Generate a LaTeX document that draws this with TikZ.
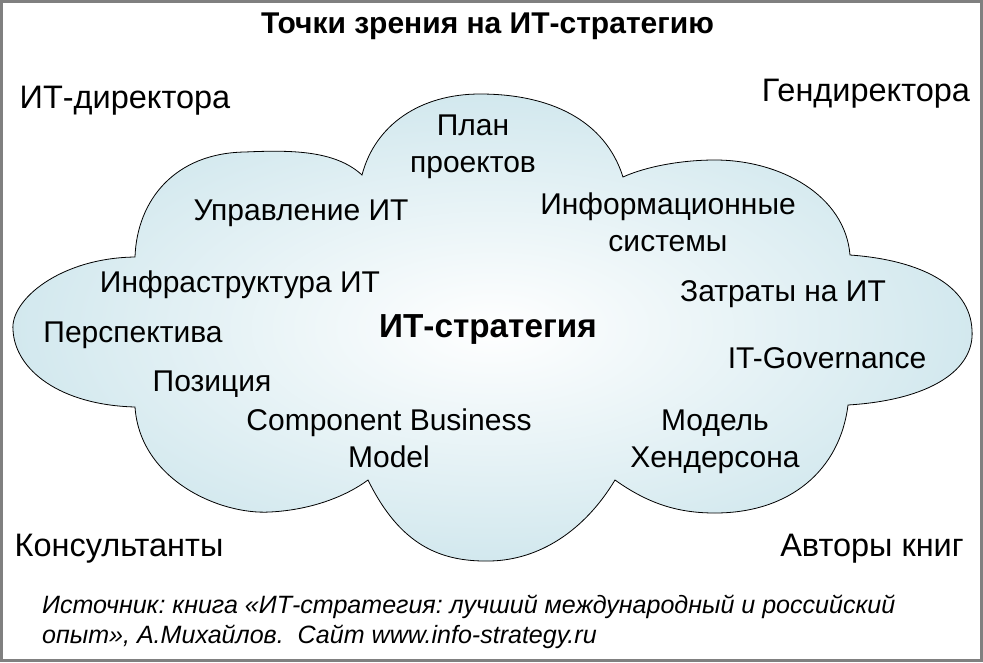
\documentclass[tikz,border=0pt]{standalone}
\usepackage{fontspec}
\setmainfont{Liberation Sans}
\definecolor{cloudblue}{RGB}{210,232,238}
\definecolor{framegray}{RGB}{128,128,128}
\begin{document}
\frenchspacing
\begin{tikzpicture}[x=1pt,y=-1pt,
  lbl/.style={inner sep=0pt, anchor=base, align=center, font=\fontsize{30}{37}\selectfont},
  cornerbox/.style={inner sep=0pt, anchor=base, font=\fontsize{32.5}{38}\selectfont},
  titlebox/.style={inner sep=0pt, anchor=base, font=\bfseries\fontsize{30}{36}\selectfont},
  centerbox/.style={inner sep=0pt, anchor=base, font=\bfseries\fontsize{33.3}{38}\selectfont},
  srcbox/.style={inner sep=0pt, anchor=base west, align=left, font=\itshape\fontsize{25.05}{30}\selectfont},
  cloudline/.style={draw=black, line width=0.8pt, inner color=white, outer color=cloudblue}]
\useasboundingbox (0,0) rectangle (983,662);
\fill[white] (0,0) rectangle (983,662);
\draw[framegray, line width=3pt] (1.5,1.5) rectangle (981.5,660.5);
% cloud
\path[cloudline] (135,257)
 .. controls (60,258) and (10,300) .. (13,330)
 .. controls (15,370) and (60,405) .. (135,407)
 .. controls (140,480) and (220,515) .. (270,512)
 .. controls (310,510) and (345,497) .. (368,480)
 .. controls (400,545) and (440,562) .. (490,561)
 .. controls (540,560) and (585,530) .. (615,480)
 .. controls (650,505) and (680,513) .. (715,513)
 .. controls (790,513) and (840,470) .. (848,405)
 .. controls (930,400) and (975,370) .. (972,330)
 .. controls (970,285) and (920,260) .. (850,255)
 .. controls (845,195) and (780,160) .. (715,160)
 .. controls (680,160) and (645,167) .. (623,177)
 .. controls (605,120) and (550,94) .. (480,94)
 .. controls (420,94) and (375,125) .. (362,175)
 .. controls (335,150) and (290,150) .. (245,152)
 .. controls (175,153) and (137,200) .. cycle;
% texts
\node[titlebox] (title) at (487.5,33) {Точки зрения на ИТ-стратегию};
\node[cornerbox] (itdir) at (125,108) {ИТ-директора};
\node[cornerbox] (gendir) at (866,101) {Гендиректора};
\node[cornerbox] (cons) at (119,556) {Консультанты};
\node[cornerbox] (authors) at (872,556) {Авторы книг};
\node[lbl] (plan) at (473,172) {План\\проектов};
\node[lbl] (upr) at (301,220) {Управление ИТ};
\node[lbl] (info) at (668,251) {Информационные\\системы};
\node[lbl] (infra) at (240,292) {Инфраструктура ИТ};
\node[lbl] (cost) at (783,301) {Затраты на ИТ};
\node[lbl] (persp) at (133,342) {Перспектива};
\node[centerbox] (strat) at (488,337) {ИТ-стратегия};
\node[lbl] (gov) at (827,368) {IT-Governance};
\node[lbl] (pos) at (212,391) {Позиция};
\node[lbl] (cbm) at (389,467) {Component Business\\Model};
\node[lbl] (hend) at (715,467) {Модель\\Хендерсона};
\node[srcbox] (source) at (42,643) {Источник: книга «ИТ-стратегия: лучший международный и российский\\опыт», А.Михайлов.\ \ Сайт www.info-strategy.ru};
\end{tikzpicture}
\end{document}
